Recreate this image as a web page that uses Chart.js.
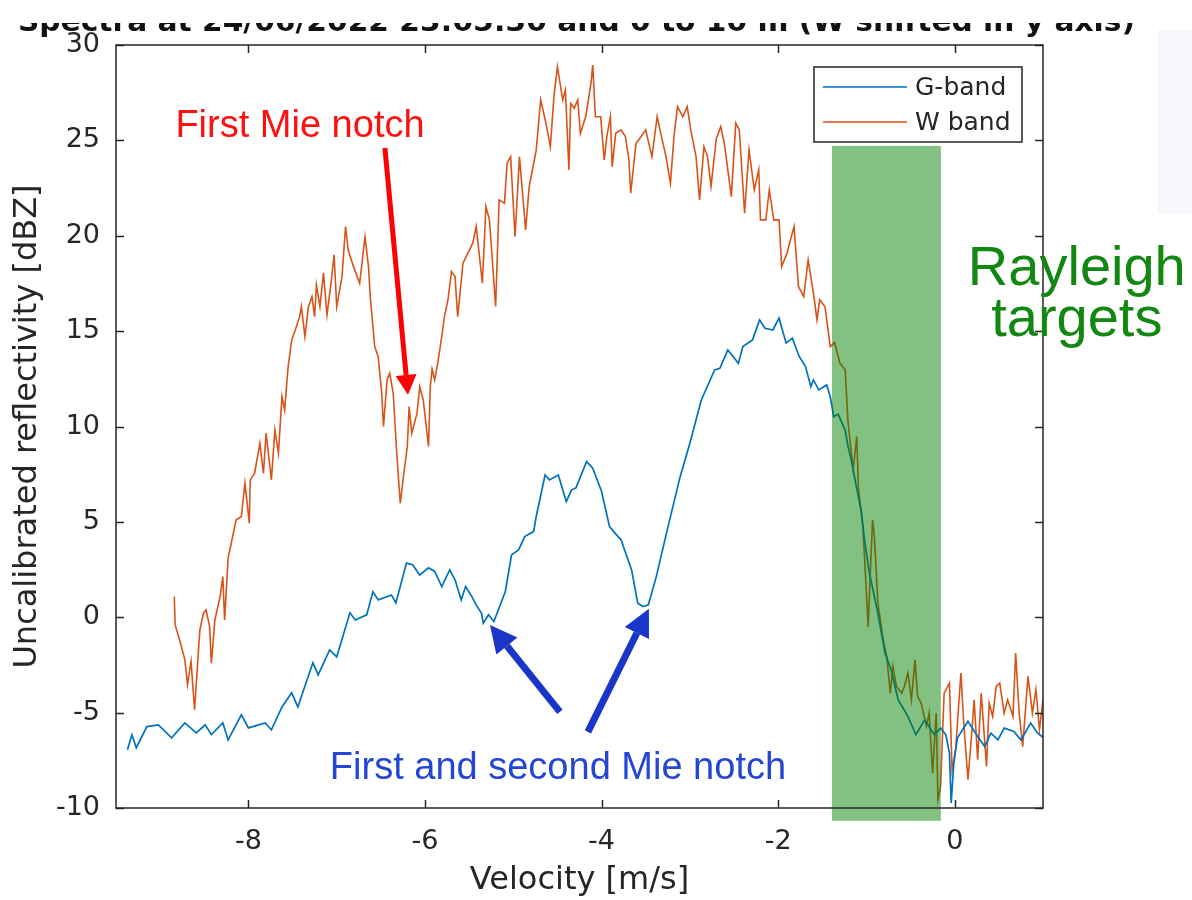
<!DOCTYPE html>
<html>
<head>
<meta charset="utf-8">
<script src="https://cdn.jsdelivr.net/npm/chart.js@4.4.1/dist/chart.umd.min.js"></script>
<style>
  body { margin: 0; background: #fff; }
  #wrap { width: 1192px; height: 900px; }
</style>
</head>
<body>
<div id="wrap">
  <canvas id="spectraChart" width="1192" height="900" role="img"
          aria-label="G-band and W band Doppler spectra, reflectivity against velocity"></canvas>
</div>
<script>
// G-band spectrum (velocity m/s, reflectivity dBZ)
const gVel = [-9.37, -9.32, -9.27, -9.15, -9.02, -8.87, -8.72, -8.59, -8.49, -8.42,
  -8.29, -8.23, -8.08, -8.00, -7.81, -7.74, -7.62, -7.51, -7.44, -7.27,
  -7.21, -7.08, -7.00, -6.85, -6.79, -6.66, -6.59, -6.53, -6.38, -6.33,
  -6.21, -6.14, -6.06, -5.96, -5.89, -5.81, -5.72, -5.66, -5.59, -5.54,
  -5.47, -5.42, -5.36, -5.34, -5.28, -5.22, -5.09, -5.02, -4.94, -4.87,
  -4.77, -4.74, -4.64, -4.59, -4.49, -4.40, -4.34, -4.29, -4.17, -4.10,
  -4.00, -3.91, -3.83, -3.78, -3.66, -3.59, -3.53, -3.47, -3.38, -3.26,
  -3.11, -3.00, -2.87, -2.72, -2.66, -2.57, -2.45, -2.40, -2.29, -2.21,
  -2.15, -2.06, -1.99, -1.91, -1.84, -1.76, -1.69, -1.63, -1.60, -1.54,
  -1.45, -1.41, -1.37, -1.32, -1.24, -1.21, -1.17, -1.12, -1.06, -1.02,
  -0.97, -0.87, -0.79, -0.72, -0.64, -0.53, -0.44, -0.34, -0.23, -0.16,
  -0.10, -0.06, -0.04, -0.01, 0.03, 0.15, 0.26, 0.34, 0.41, 0.49,
  0.56, 0.67, 0.75, 0.86, 0.94, 1.00];
const gRefl = [-6.95, -6.16, -6.84, -5.73, -5.64, -6.32, -5.54, -6.06, -5.64, -6.16,
  -5.54, -6.43, -5.12, -5.80, -5.54, -5.90, -4.70, -3.96, -4.70, -2.39,
  -3.02, -1.71, -2.08, 0.23, -0.14, 0.13, 1.33, 0.91, 1.17, 0.75,
  2.84, 2.75, 2.22, 2.59, 2.40, 1.61, 2.48, 1.96, 0.91, 1.61,
  1.09, 0.65, 0.21, -0.31, 0.13, -0.22, 1.35, 3.27, 3.53, 4.23,
  4.49, 5.28, 7.46, 7.20, 7.46, 6.06, 6.68, 6.78, 8.16, 7.81,
  6.59, 4.75, 4.32, 4.06, 2.48, 0.74, 0.56, 0.65, 2.13, 4.50,
  7.37, 9.12, 11.39, 12.97, 13.05, 14.01, 13.31, 14.19, 14.54, 15.59,
  15.15, 15.06, 15.68, 14.37, 14.63, 13.66, 13.14, 12.09, 12.44, 11.92,
  12.18, 11.57, 10.52, 10.65, 9.80, 9.00, 8.20, 7.00, 5.60, 4.00,
  2.40, 0.21, -1.88, -2.76, -4.33, -5.20, -6.16, -5.38, -6.16, -5.81,
  -6.16, -7.12, -9.74, -7.64, -6.33, -5.46, -6.25, -6.78, -6.08, -6.43,
  -5.81, -5.99, -6.43, -5.55, -6.08, -6.30];

// W band spectrum (shifted in y)
const wVel = [-8.84, -8.83, -8.78, -8.72, -8.69, -8.65, -8.61, -8.59, -8.55, -8.51,
  -8.48, -8.44, -8.42, -8.38, -8.32, -8.29, -8.27, -8.23, -8.14, -8.08,
  -8.04, -7.99, -7.98, -7.93, -7.87, -7.83, -7.80, -7.74, -7.70, -7.66,
  -7.62, -7.59, -7.55, -7.51, -7.47, -7.42, -7.40, -7.36, -7.32, -7.28,
  -7.25, -7.23, -7.19, -7.15, -7.11, -7.06, -7.03, -7.00, -6.94, -6.90,
  -6.87, -6.81, -6.74, -6.68, -6.64, -6.62, -6.57, -6.53, -6.49, -6.47,
  -6.43, -6.40, -6.36, -6.32, -6.28, -6.24, -6.20, -6.18, -6.15, -6.09,
  -6.06, -6.02, -5.96, -5.94, -5.92, -5.89, -5.85, -5.81, -5.78, -5.74,
  -5.70, -5.66, -5.63, -5.57, -5.46, -5.42, -5.35, -5.31, -5.27, -5.20,
  -5.16, -5.10, -5.07, -5.03, -4.98, -4.93, -4.86, -4.82, -4.74, -4.69,
  -4.63, -4.58, -4.54, -4.50, -4.44, -4.41, -4.37, -4.35, -4.31, -4.27,
  -4.24, -4.18, -4.12, -4.10, -4.07, -4.01, -3.97, -3.94, -3.90, -3.88,
  -3.84, -3.78, -3.73, -3.69, -3.67, -3.61, -3.58, -3.50, -3.43, -3.37,
  -3.33, -3.27, -3.22, -3.18, -3.14, -3.08, -3.03, -2.99, -2.93, -2.89,
  -2.84, -2.80, -2.76, -2.70, -2.65, -2.61, -2.53, -2.48, -2.44, -2.38,
  -2.33, -2.27, -2.22, -2.20, -2.14, -2.10, -2.05, -1.99, -1.96, -1.90,
  -1.82, -1.77, -1.71, -1.66, -1.60, -1.56, -1.53, -1.47, -1.43, -1.41,
  -1.36, -1.30, -1.24, -1.21, -1.15, -1.11, -1.09, -1.04, -0.98, -0.96,
  -0.93, -0.91, -0.87, -0.81, -0.77, -0.73, -0.70, -0.66, -0.60, -0.57,
  -0.53, -0.49, -0.45, -0.42, -0.38, -0.32, -0.29, -0.25, -0.21, -0.19,
  -0.16, -0.12, -0.06, -0.03, 0.01, 0.07, 0.10, 0.15, 0.19, 0.22,
  0.26, 0.30, 0.36, 0.39, 0.43, 0.47, 0.51, 0.56, 0.60, 0.66,
  0.69, 0.73, 0.77, 0.83, 0.88, 0.92, 0.96, 1.00];
const wRefl = [1.09, -0.40, -1.18, -2.23, -3.54, -2.32, -4.85, -3.45, -0.66, 0.21,
  0.39, -0.48, -2.41, -0.14, 1.09, 2.13, -0.14, 3.10, 5.10, 5.28,
  7.03, 4.93, 7.20, 7.55, 9.12, 7.55, 9.65, 7.20, 9.82, 8.60,
  11.57, 10.87, 13.14, 14.54, 15.06, 15.76, 16.29, 14.71, 16.29, 16.81,
  15.76, 17.42, 16.29, 18.04, 15.85, 17.69, 19.00, 16.29, 17.86, 20.48,
  19.25, 18.38, 17.51, 19.95, 18.38, 16.81, 14.19, 13.66, 11.74, 10.00,
  12.44, 12.79, 11.74, 8.60, 5.98, 7.55, 8.95, 11.04, 9.65, 10.70,
  12.09, 11.39, 8.95, 12.09, 13.00, 12.44, 13.49, 14.71, 15.76, 16.64,
  18.12, 17.86, 15.76, 18.56, 19.60, 20.48, 17.51, 21.53, 20.83, 16.29,
  21.88, 21.70, 23.80, 24.15, 19.95, 24.15, 20.30, 22.57, 24.50, 27.12,
  25.90, 24.67, 27.29, 28.86, 27.12, 27.64, 23.45, 26.94, 26.68, 27.12,
  25.37, 26.24, 27.99, 28.95, 26.24, 26.24, 23.97, 25.20, 26.24, 23.62,
  25.37, 25.55, 25.20, 23.97, 22.23, 24.85, 25.02, 25.55, 24.15, 26.24,
  25.37, 24.15, 22.75, 25.20, 26.77, 26.24, 26.77, 25.55, 24.15, 21.88,
  24.67, 24.15, 22.60, 25.10, 25.72, 24.85, 22.05, 25.90, 25.55, 21.18,
  24.50, 22.40, 23.45, 20.83, 20.83, 22.40, 20.83, 20.83, 18.38, 19.08,
  20.48, 17.34, 16.81, 18.74, 16.99, 15.59, 16.64, 16.29, 14.89, 14.19,
  14.40, 13.31, 12.97, 10.30, 7.73, 9.47, 6.70, 4.75, -0.51, 1.96,
  5.10, 4.23, 0.74, -1.18, -2.06, -3.98, -2.58, -3.63, -3.98, -3.63,
  -2.93, -4.33, -2.23, -4.15, -4.50, -5.72, -5.02, -8.17, -5.02, -9.57,
  -8.87, -3.98, -3.45, -8.00, -6.95, -2.93, -5.38, -8.52, -6.25, -4.33,
  -7.47, -3.98, -7.82, -4.50, -5.20, -3.63, -3.45, -5.02, -4.33, -5.20,
  -1.88, -5.02, -6.78, -3.10, -5.02, -3.80, -5.90, -4.33];

const seriesNames = ['G-band', 'W band'];
const seriesColors = ['#0072bd', '#d95319'];
const xTicks = [-8, -6, -4, -2, 0];
const yTicks = [-10, -5, 0, 5, 10, 15, 20, 25, 30];

const axisColor = '#262626';
const tickFont = { family: 'DejaVu Sans', size: 27 };
const labelFont = { family: 'DejaVu Sans', size: 32 };

function toPoints(xs, ys) {
  return xs.map((x, i) => ({ x: x, y: ys[i] }));
}

function arrow(ctx, x1, y1, x2, y2, shaft, headLen, headW, color) {
  const ang = Math.atan2(y2 - y1, x2 - x1);
  const bx = x2 - headLen * Math.cos(ang), by = y2 - headLen * Math.sin(ang);
  ctx.strokeStyle = color;
  ctx.fillStyle = color;
  ctx.lineWidth = shaft;
  ctx.beginPath();
  ctx.moveTo(x1, y1);
  ctx.lineTo(bx, by);
  ctx.stroke();
  ctx.beginPath();
  ctx.moveTo(x2, y2);
  ctx.lineTo(bx + headW / 2 * Math.sin(ang), by - headW / 2 * Math.cos(ang));
  ctx.lineTo(bx - headW / 2 * Math.sin(ang), by + headW / 2 * Math.cos(ang));
  ctx.closePath();
  ctx.fill();
}

// frame, inner ticks, legend, annotations
const decorations = {
  id: 'decorations',
  afterDatasetsDraw(chart) {
    const ctx = chart.ctx;
    const xs = chart.scales.x, ys = chart.scales.y;
    const px = v => xs.getPixelForValue(v), py = v => ys.getPixelForValue(v);
    const a = chart.chartArea;

    ctx.save();
    // Rayleigh band
    ctx.fillStyle = 'rgba(0,128,0,0.49)';
    ctx.fillRect(px(-1.391), py(24.71), px(-0.157) - px(-1.391), py(-10.67) - py(24.71));

    // frame
    ctx.strokeStyle = axisColor;
    ctx.lineWidth = 1.5;
    ctx.strokeRect(a.left, a.top, a.right - a.left, a.bottom - a.top);
    ctx.beginPath();
    xTicks.forEach(v => {
      const x = Math.round(px(v)) + 0.5;
      ctx.moveTo(x, a.bottom); ctx.lineTo(x, a.bottom - 8);
      ctx.moveTo(x, a.top); ctx.lineTo(x, a.top + 8);
    });
    yTicks.forEach(v => {
      const y = Math.round(py(v)) + 0.5;
      ctx.moveTo(a.left, y); ctx.lineTo(a.left + 8, y);
      ctx.moveTo(a.right, y); ctx.lineTo(a.right - 8, y);
    });
    ctx.stroke();

    // legend
    const lx = a.right - 229, ly = a.top + 22;
    ctx.fillStyle = '#fff';
    ctx.fillRect(lx, ly, 208, 75);
    ctx.strokeStyle = axisColor;
    ctx.lineWidth = 1.5;
    ctx.strokeRect(lx, ly, 208, 75);
    ctx.font = '25px "DejaVu Sans"';
    ctx.textBaseline = 'middle';
    ctx.textAlign = 'left';
    chart.data.datasets.forEach((ds, i) => {
      const y = ly + 20 + i * 35;
      ctx.strokeStyle = ds.borderColor;
      ctx.lineWidth = 1.6;
      ctx.beginPath();
      ctx.moveTo(lx + 9, y); ctx.lineTo(lx + 93, y);
      ctx.stroke();
      ctx.fillStyle = axisColor;
      ctx.fillText(ds.label, lx + 101, y + 1);
    });

    // annotations
    ctx.textAlign = 'center';
    ctx.textBaseline = 'alphabetic';
    ctx.font = '38px "Liberation Sans"';
    ctx.fillStyle = '#ff1010';
    ctx.fillText('First Mie notch', px(-7.416), py(25.18));
    arrow(ctx, px(-6.454), py(24.6), px(-6.193), py(11.66), 5, 20, 21, '#ff0000');

    ctx.fillStyle = '#2446d4';
    ctx.fillText('First and second Mie notch', px(-4.494), py(-8.47));
    arrow(ctx, px(-4.472), py(-4.96), px(-5.264), py(-0.40), 7, 27, 27, '#1a36c8');
    arrow(ctx, px(-4.155), py(-6.01), px(-3.464), py(0.44), 7, 27, 27, '#1a36c8');

    ctx.font = '56px "Liberation Sans"';
    ctx.fillStyle = '#128812';
    ctx.fillText('Rayleigh', px(1.383), py(17.42));
    ctx.fillText('targets', px(1.383), py(14.76));
    ctx.restore();
  },
  afterDraw(chart) {
    const ctx = chart.ctx;
    ctx.save();
    // faint panel on the right edge
    ctx.fillStyle = '#f7f7fc';
    ctx.fillRect(1157, 30, 35, 184);
    // title, upper part hidden
    const title = 'Spectra at 24/06/2022 23:05:30 and 0 to 10 m (W shifted in y axis)';
    ctx.font = 'bold 28px "DejaVu Sans"';
    ctx.fillStyle = '#111';
    ctx.textBaseline = 'alphabetic';
    ctx.textAlign = 'left';
    const w = ctx.measureText(title).width;
    ctx.save();
    ctx.translate(18, 31);
    ctx.scale(1117 / w, 1);
    ctx.fillText(title, 0, 0);
    ctx.restore();
    ctx.fillStyle = '#fff';
    ctx.fillRect(0, 0, 1192, 23);
    ctx.restore();
  }
};

new Chart(document.getElementById('spectraChart').getContext('2d'), {
  type: 'scatter',
  data: {
    datasets: [
      {
        label: seriesNames[0],
        data: toPoints(gVel, gRefl),
        showLine: true,
        borderColor: seriesColors[0],
        backgroundColor: seriesColors[0],
        borderWidth: 1.7,
        pointRadius: 0,
      },
      {
        label: seriesNames[1],
        data: toPoints(wVel, wRefl),
        showLine: true,
        borderColor: seriesColors[1],
        backgroundColor: seriesColors[1],
        borderWidth: 1.6,
        pointRadius: 0,
      },
    ],
  },
  options: {
    responsive: false,
    animation: false,
    layout: { padding: { top: 45, right: 149, left: 0, bottom: 0 } },
    plugins: { legend: { display: false }, tooltip: { enabled: false } },
    scales: {
      x: {
        type: 'linear',
        min: -9.5,
        max: 1,
        afterBuildTicks: s => { s.ticks = xTicks.map(v => ({ value: v })); },
        afterFit: s => { s.height = 92; },
        grid: { display: false },
        border: { display: false },
        ticks: { color: axisColor, font: tickFont, padding: 10, maxRotation: 0 },
        title: {
          display: true,
          text: 'Velocity [m/s]',
          color: axisColor,
          font: labelFont,
          padding: { top: 0, bottom: 0 },
        },
      },
      y: {
        type: 'linear',
        min: -10,
        max: 30,
        afterBuildTicks: s => { s.ticks = yTicks.map(v => ({ value: v })); },
        afterFit: s => { s.width = 116; },
        grid: { display: false },
        border: { display: false },
        ticks: { color: axisColor, font: tickFont, padding: 8, autoSkip: false },
        title: {
          display: true,
          text: 'Uncalibrated reflectivity [dBZ]',
          color: axisColor,
          font: labelFont,
          padding: { top: 8, bottom: 0 },
        },
      },
    },
  },
  plugins: [decorations],
});
</script>
</body>
</html>
